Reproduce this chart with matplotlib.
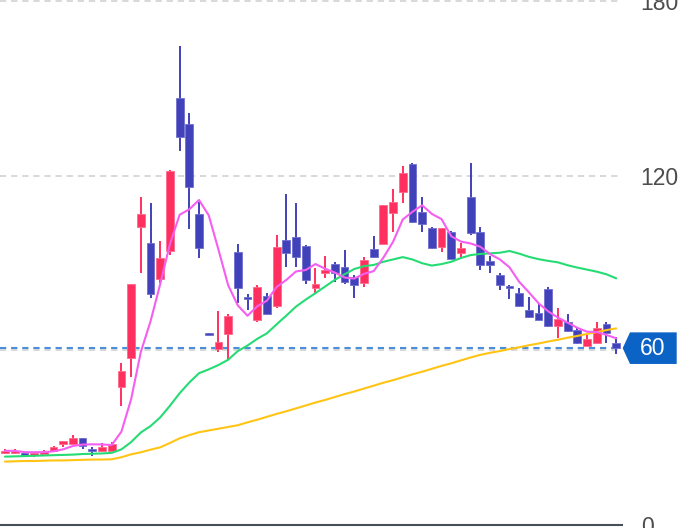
import matplotlib
matplotlib.use('Agg')
import matplotlib.pyplot as plt
import numpy as np
import pandas as pd
from matplotlib.patches import Rectangle, Polygon
from matplotlib import transforms

opens = [24.6, 24.7, 24.4, 24.1, 24.4, 25.5, 27.9, 27.8, 29.8, 26.0,
         25.6, 25.6, 47.6, 57.3, 102.4, 96.9, 84.5, 94.3, 146.7, 137.8,
         106.8, 65.8, 60.4, 65.6, 94.0, 78.3, 70.5, 78.9, 75.3, 98.0,
         98.9, 95.9, 81.6, 86.6, 89.8, 88.8, 85.4, 83.3, 94.8, 96.6,
         107.4, 114.4, 124.0, 107.7, 102.0, 95.5, 100.9, 93.4, 112.9, 100.9,
         90.8, 86.0, 82.0, 79.9, 73.9, 72.8, 81.1, 68.4, 69.9, 67.1,
         61.6, 62.7, 69.1, 62.7]
closes = [25.5, 25.5, 24.2, 24.9, 25.2, 26.9, 28.9, 30.0, 27.3, 25.6,
          26.7, 27.8, 53.1, 82.9, 106.9, 79.4, 91.9, 121.8, 133.3, 116.3,
          95.4, 65.6, 63.0, 72.0, 81.4, 77.7, 81.9, 72.6, 95.7, 93.4,
          92.3, 84.3, 82.9, 87.7, 86.8, 83.7, 82.5, 91.1, 92.3, 109.9,
          111.0, 120.9, 104.3, 103.5, 95.1, 102.0, 91.5, 95.1, 100.3, 89.4,
          89.4, 82.5, 81.4, 75.4, 71.4, 70.5, 68.4, 70.8, 66.7, 62.5,
          63.9, 67.8, 65.9, 60.8]
highs = [26.0, 26.0, 24.9, 25.0, 25.8, 27.0, 29.0, 30.9, 29.9, 26.7,
         28.3, 28.6, 55.7, 83.0, 112.6, 110.6, 97.7, 122.0, 164.7, 141.6,
         111.0, 65.9, 73.6, 72.5, 96.5, 79.4, 82.5, 79.7, 99.7, 113.7,
         110.8, 96.2, 88.3, 92.5, 90.5, 94.6, 86.0, 92.1, 99.5, 110.0,
         115.5, 123.5, 124.6, 112.7, 102.5, 102.2, 101.0, 96.9, 124.6, 102.6,
         92.5, 86.8, 82.5, 81.4, 78.5, 76.2, 81.7, 74.5, 72.6, 68.2,
         65.3, 69.7, 69.7, 64.8]
lows = [24.3, 24.5, 23.3, 23.3, 24.3, 25.4, 26.7, 27.7, 26.0, 23.8,
        25.5, 25.5, 41.0, 51.0, 86.8, 78.0, 83.1, 92.8, 128.7, 101.7,
        91.7, 65.5, 59.6, 56.7, 76.4, 73.9, 69.9, 72.4, 74.5, 88.6,
        88.8, 82.8, 79.9, 84.8, 83.7, 82.9, 78.0, 81.7, 91.7, 96.5,
        100.9, 110.8, 103.7, 100.9, 94.8, 94.0, 91.3, 92.3, 99.7, 87.7,
        86.8, 80.8, 77.7, 75.3, 71.3, 70.4, 68.2, 64.2, 66.5, 62.4,
        61.5, 62.5, 62.7, 58.8]
ma_green = [23.5, 23.6, 23.7, 23.8, 23.9, 24.0, 24.1, 24.2, 24.4, 24.5,
            24.6, 24.8, 26.0, 28.5, 31.8, 34.0, 37.0, 41.0, 45.3, 49.0,
            52.2, 53.5, 55.0, 56.8, 59.8, 61.7, 64.0, 65.9, 69.0, 72.0,
            75.1, 77.5, 79.7, 82.0, 84.3, 86.2, 88.0, 89.0, 89.4, 90.5,
            91.3, 92.1, 91.3, 90.0, 89.2, 89.7, 90.5, 91.8, 92.8, 93.2,
            93.4, 93.6, 94.2, 93.3, 92.2, 91.4, 90.8, 90.3, 89.3, 88.5,
            87.8, 87.1, 86.2, 84.8]
ma_yellow = [21.8, 21.9, 22.0, 22.0, 22.1, 22.2, 22.2, 22.3, 22.4, 22.5,
             22.5, 22.6, 23.3, 24.3, 25.0, 25.9, 26.7, 28.2, 29.8, 30.9,
             31.9, 32.5, 33.1, 33.7, 34.3, 35.3, 36.2, 37.2, 38.2, 39.1,
             40.1, 41.1, 42.1, 43.0, 44.0, 45.0, 45.9, 46.9, 47.9, 48.9,
             49.8, 50.8, 51.8, 52.7, 53.7, 54.7, 55.6, 56.6, 57.6, 58.5,
             59.2, 59.8, 60.5, 61.1, 61.8, 62.4, 63.1, 63.7, 64.4, 65.0,
             65.7, 66.3, 67.0, 67.6]
y_ticks = [0, 120, 180]
y_tick_labels = ["0", "120", "180"]
grid_levels = [60, 120, 180]
price_label = "60"

plt.rcParams['lines.scale_dashes'] = False
plt.rcParams['font.family'] = ['Liberation Sans', 'DejaVu Sans']

W, H = 679, 528
fig = plt.figure(figsize=(W / 100, H / 100), dpi=100)
ax = fig.add_axes([0, 3 / H, 622 / W, 525 / H])

UP, DOWN = '#ff3060', '#4141b9'
UP_EDGE, DOWN_EDGE = '#ff6a8c', '#7070d0'
n = len(closes)
x = np.arange(n)
for i in range(n):
    o, c, h, l = opens[i], closes[i], highs[i], lows[i]
    up = c > o
    col = UP if up else DOWN
    ecol = UP_EDGE if up else DOWN_EDGE
    ax.vlines(i, l, h, color=col, lw=1.4, zorder=3)
    bot = min(o, c)
    ht = abs(c - o)
    if ht < 0.7:
        bot = (o + c) / 2 - 0.35
        ht = 0.7
    ax.add_patch(Rectangle((i - 0.4, bot), 0.8, ht, facecolor=col,
                           edgecolor=ecol, lw=0.6, zorder=4))

ma_pink = pd.Series(closes).rolling(5, min_periods=1).mean()
ax.plot(x, ma_yellow, color='#ffc414', lw=1.5, zorder=5, solid_capstyle='round')
ax.plot(x, ma_green, color='#25dc74', lw=1.5, zorder=5, solid_capstyle='round')
ax.plot(x, ma_pink, color='#f55ef0', lw=1.5, zorder=6, solid_capstyle='round')

for lvl in grid_levels:
    ax.axhline(lvl, color='#d6d6d6', lw=1.3, dashes=(4.5, 3.5), zorder=1)
ax.axhline(closes[-1], color='#4a8fdc', lw=1.5, dashes=(4.5, 3.5), zorder=2)

ax.set_xlim(-0.515, 63.6)
ax.set_ylim(0, 180.5)
ax.set_xticks([])
ax.yaxis.tick_right()
ax.set_yticks(y_ticks)
ax.set_yticklabels(y_tick_labels)
ax.tick_params(axis='y', length=0, pad=13.5, labelsize=16.5, labelcolor='#4d4d4d')
for s in ['top', 'left', 'right']:
    ax.spines[s].set_visible(False)
ax.spines['bottom'].set_color('#484e55')
ax.spines['bottom'].set_linewidth(1.5)

# price label box
tr = transforms.blended_transform_factory(fig.transFigure, ax.transData)
yc = closes[-1]
hh = 15.8 / (525 / 180.5)
pts = [(622.7 / W, yc), (630 / W, yc + hh), (676.7 / W, yc + hh),
       (676.7 / W, yc - hh), (630 / W, yc - hh)]
box = Polygon(pts, closed=True, transform=tr, facecolor='#0b63c6',
              edgecolor='none', clip_on=False, zorder=10)
ax.add_patch(box)
ax.text(653 / W, yc, price_label, transform=tr, color='white', fontsize=16.5,
        ha='center', va='center', zorder=11, clip_on=False)

fig.savefig('out.png', dpi=100)
